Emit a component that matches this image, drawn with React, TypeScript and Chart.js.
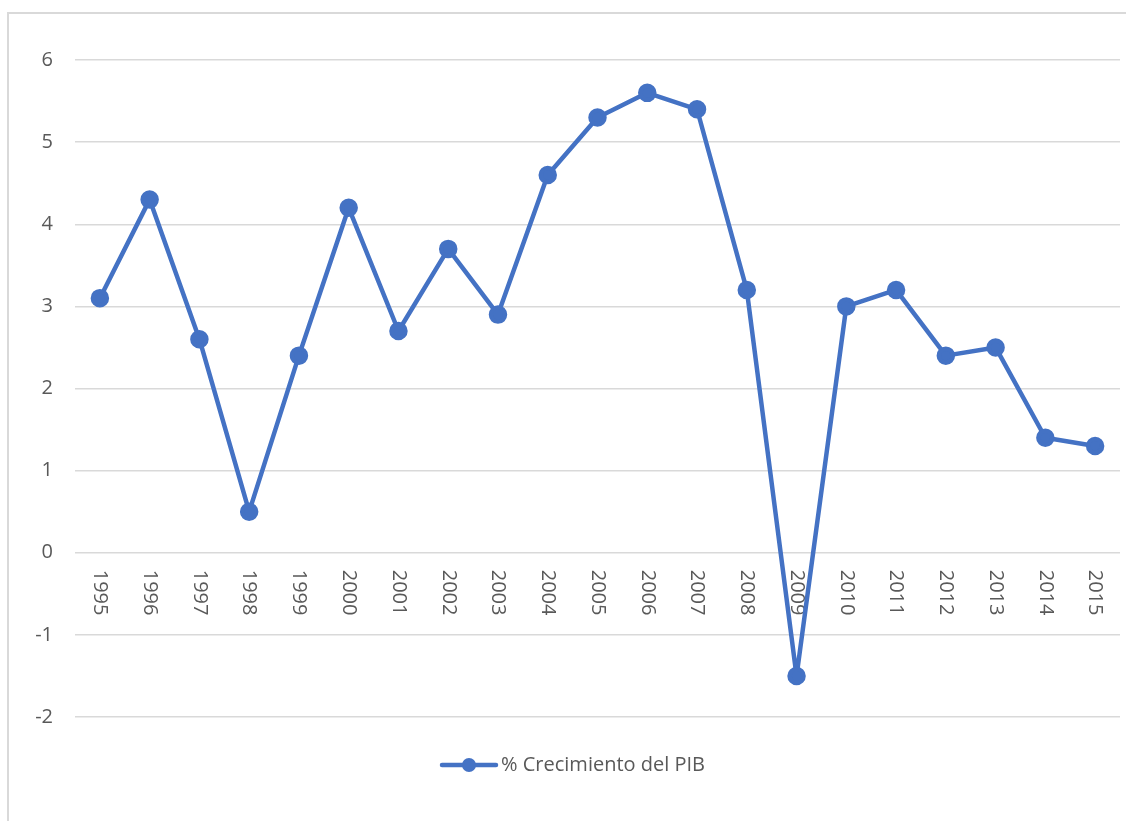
import React, { useEffect, useRef } from "react";
import { Chart, registerables } from "chart.js";

Chart.register(...registerables);

const years = ["1995","1996","1997","1998","1999","2000","2001","2002","2003","2004","2005","2006","2007","2008","2009","2010","2011","2012","2013","2014","2015"];
const growth = [3.1, 4.3, 2.6, 0.5, 2.4, 4.2, 2.7, 3.7, 2.9, 4.6, 5.3, 5.6, 5.4, 3.2, -1.5, 3.0, 3.2, 2.4, 2.5, 1.4, 1.3];
const seriesName = "% Crecimiento del PIB";

const BLUE = "#4472C4";
const TEXT = "#595959";
const GRID = "#d9d9d9";
const FONT = "'Open Sans', 'DejaVu Sans', sans-serif";

const decorPlugin = {
  id: "decor",
  beforeDatasetsDraw(chart: any) {
    const ctx = chart.ctx;
    const xs = chart.scales.x;
    const ys = chart.scales.y;
    const y0 = ys.getPixelForValue(0);
    ctx.save();
    ctx.fillStyle = TEXT;
    ctx.font = `20px ${FONT}`;
    ctx.textAlign = "left";
    ctx.textBaseline = "middle";
    years.forEach((lab, i) => {
      const x = xs.getPixelForValue(i);
      ctx.save();
      ctx.translate(x, y0 + 17);
      ctx.rotate(Math.PI / 2);
      ctx.fillText(lab, 0, 0);
      ctx.restore();
    });
    ctx.restore();
  },
  afterDraw(chart: any) {
    const ctx = chart.ctx;
    ctx.save();
    ctx.strokeStyle = GRID;
    ctx.lineWidth = 2;
    ctx.beginPath();
    ctx.moveTo(8, 821);
    ctx.lineTo(8, 13);
    ctx.lineTo(1126, 13);
    ctx.stroke();
    const ly = 765;
    ctx.strokeStyle = BLUE;
    ctx.lineWidth = 4.5;
    ctx.lineCap = "round";
    ctx.beginPath();
    ctx.moveTo(442, ly);
    ctx.lineTo(496, ly);
    ctx.stroke();
    ctx.fillStyle = BLUE;
    ctx.beginPath();
    ctx.arc(469, ly, 7, 0, Math.PI * 2);
    ctx.fill();
    ctx.fillStyle = TEXT;
    ctx.font = `20px ${FONT}`;
    ctx.textAlign = "left";
    ctx.textBaseline = "middle";
    ctx.fillText(seriesName, 501, ly);
    ctx.restore();
  },
};

export default function App() {
  const ref = useRef<HTMLCanvasElement | null>(null);
  useEffect(() => {
    if (!ref.current) return;
    const chart = new Chart(ref.current, {
      type: "line",
      data: {
        labels: years,
        datasets: [
          {
            label: seriesName,
            data: growth,
            borderColor: BLUE,
            backgroundColor: BLUE,
            borderWidth: 4.5,
            borderJoinStyle: "round",
            borderCapStyle: "round",
            pointRadius: 7,
            pointHoverRadius: 7,
            pointBackgroundColor: BLUE,
            pointBorderColor: BLUE,
            tension: 0,
          },
        ],
      },
      options: {
        animation: false,
        responsive: false,
        layout: { autoPadding: false, padding: { left: 0, top: 60, right: 6, bottom: 104 } },
        plugins: { legend: { display: false }, tooltip: { enabled: false } },
        scales: {
          x: {
            type: "category",
            offset: true,
            display: false,
          },
          y: {
            min: -2,
            max: 6,
            afterFit: (s: any) => { s.width = 75; },
            ticks: {
              stepSize: 1,
              color: TEXT,
              font: { size: 20, family: FONT },
              padding: 22,
            },
            grid: { color: GRID, lineWidth: 1.5, drawTicks: false },
            border: { display: false },
          },
        },
      },
      plugins: [decorPlugin],
    });
    return () => chart.destroy();
  }, []);
  return (
    <div style={{ position: "fixed", left: 0, top: 0, width: 1126, height: 821, background: "#fff" }}>
      <canvas ref={ref} width={1126} height={821} style={{ display: "block" }} />
    </div>
  );
}
